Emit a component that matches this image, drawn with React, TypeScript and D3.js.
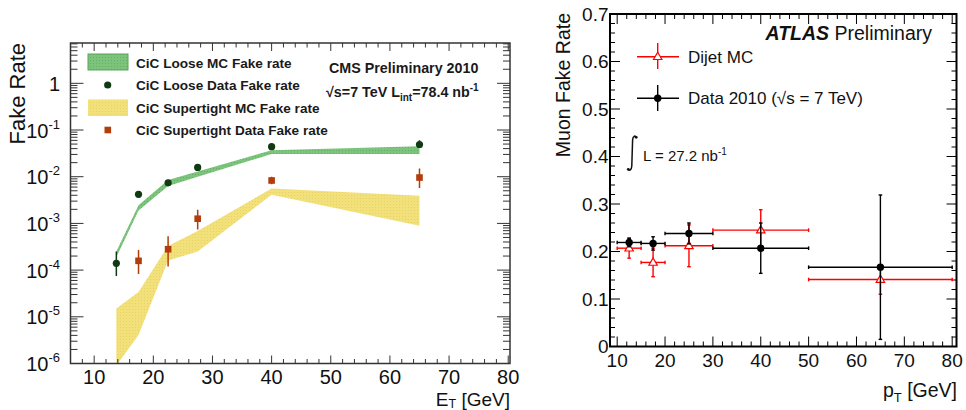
import React from "react";
import * as d3 from "d3";

// left panel: photon fake rate vs E_T (log scale)
const etPoints = [13.75, 17.5, 22.5, 27.5, 40, 65];
const looseMcHigh = [2.5e-4, 2.45e-3, 8.5e-3, 1.29e-2, 3.7e-2, 4.5e-2];
const looseMcLow = [1.9e-4, 1.9e-3, 6.3e-3, 1.0e-2, 3.05e-2, 3.05e-2];
const tightMcHigh = [1.5e-5, 3.4e-5, 3.3e-4, 6.9e-4, 5.6e-3, 3.9e-3];
const tightMcLow = [9e-7, 4.1e-6, 1.6e-4, 2.5e-4, 4.1e-3, 8.9e-4];
const looseData = [1.4e-4, 4.2e-3, 7.4e-3, 1.58e-2, 4.4e-2, 4.9e-2];
const looseDataLow = [7.5e-5, 3.9e-3, 7.0e-3, 1.5e-2, 4.1e-2, 4.2e-2];
const looseDataHigh = [2.5e-4, 4.5e-3, 7.9e-3, 1.7e-2, 4.7e-2, 6.0e-2];
const tightEt = [17.5, 22.5, 27.5, 40, 65];
const tightData = [1.58e-4, 2.8e-4, 1.26e-3, 8.3e-3, 9.6e-3];
const tightDataLow = [8.3e-5, 1.2e-4, 7.4e-4, 6.9e-3, 5.7e-3];
const tightDataHigh = [2.7e-4, 5.3e-4, 1.96e-3, 1.0e-2, 1.5e-2];
const leftXTicks = [10, 20, 30, 40, 50, 60, 70, 80];
const leftDecades = [-6, -5, -4, -3, -2, -1, 0];
const leftLegend = [
  "CiC Loose MC Fake rate",
  "CiC Loose Data Fake rate",
  "CiC Supertight MC Fake rate",
  "CiC Supertight Data Fake rate",
];

// right panel: muon fake rate vs p_T
const ptLow = [10, 15, 20, 30, 50];
const ptHigh = [15, 20, 30, 50, 80];
const ptCenter = [12.5, 17.5, 25, 40, 65];
const muData = [0.219, 0.217, 0.238, 0.207, 0.167];
const muDataErr = [0.009, 0.014, 0.022, 0.053, 0.152];
const muMc = [0.207, 0.177, 0.212, 0.245, 0.141];
const muMcErr = [0.021, 0.03, 0.044, 0.043, 0.031];
const rightXTicks = [10, 20, 30, 40, 50, 60, 70, 80];
const rightYTicks = [0, 0.1, 0.2, 0.3, 0.4, 0.5, 0.6, 0.7];

const FONT = "'Liberation Sans', Arial, Helvetica, sans-serif";
const GREEN = "#7cc47c";
const YELLOW = "#f2e07a";
const DARKGREEN = "#0f3a12";
const RUST = "#b23c0c";

const App = () => {
  // left scales
  const xL = d3.scaleLinear().domain([6, 80.3]).range([70.5, 510]);
  const yL = d3.scaleLog().domain([1e-6, 7.3]).range([363.5, 43]);
  const [lx0, lx1] = xL.range();
  const [ly0, ly1] = yL.range();

  // right scales
  const xR = d3.scaleLinear().domain([8.5, 80.9]).range([610, 956.5]);
  const yR = d3.scaleLinear().domain([0, 0.7]).range([346.5, 14]);
  const [rx0, rx1] = xR.range();
  const [ry0, ry1] = yR.range();

  const looseBand = d3
    .area<number>()
    .x((d, i) => xL(etPoints[i]))
    .y0((d, i) => yL(looseMcLow[i]))
    .y1((d, i) => yL(looseMcHigh[i]));
  const tightBand = d3
    .area<number>()
    .x((d, i) => xL(etPoints[i]))
    .y0((d, i) => yL(tightMcLow[i]))
    .y1((d, i) => yL(tightMcHigh[i]));

  const leftMinorX = d3.range(6, 80.01, 2).filter((v) => v % 10 !== 0);
  const leftMinorY: number[] = [];
  leftDecades.forEach((e) => {
    for (let k = 2; k <= 9; k++) {
      const v = k * Math.pow(10, e);
      if (v < 7.3) leftMinorY.push(v);
    }
  });
  const rightMinorX = d3.range(10, 80.01, 2).filter((v) => v % 10 !== 0);
  const rightMinorY = d3.range(0, 0.701, 0.02).filter((v) => Math.abs(v * 10 - Math.round(v * 10)) > 1e-6);

  const tri = (cx: number, cy: number) =>
    `M${cx},${cy - 4.5} L${cx + 4.2},${cy + 2.8} L${cx - 4.2},${cy + 2.8} Z`;

  return (
    <svg
      width={966}
      height={410}
      style={{ position: "absolute", left: 0, top: 0, background: "#fff" }}
      fontFamily={FONT}
    >
      <defs>
        <clipPath id="clipL">
          <rect x={lx0} y={ly1} width={lx1 - lx0} height={ly0 - ly1} />
        </clipPath>
        <pattern id="greenTex" width={3} height={3} patternUnits="userSpaceOnUse">
          <rect width={3} height={3} fill={GREEN} />
          <rect width={1} height={1} fill="#66ad66" />
        </pattern>
        <pattern id="yellowTex" width={3} height={3} patternUnits="userSpaceOnUse">
          <rect width={3} height={3} fill={YELLOW} />
          <rect width={1} height={1} fill="#e8d264" />
        </pattern>
      </defs>

      {/* ---------------- LEFT PANEL ---------------- */}
      <g clipPath="url(#clipL)">
        <path d={tightBand(etPoints) || ""} fill="url(#yellowTex)" />
        <path d={looseBand(etPoints) || ""} fill="url(#greenTex)" />
        {etPoints.map((x, i) => (
          <line
            key={"le" + i}
            x1={xL(x)}
            x2={xL(x)}
            y1={yL(looseDataLow[i])}
            y2={yL(looseDataHigh[i])}
            stroke={DARKGREEN}
            strokeWidth={1.5}
          />
        ))}
        {etPoints.map((x, i) => (
          <circle key={"ld" + i} cx={xL(x)} cy={yL(looseData[i])} r={3.6} fill={DARKGREEN} />
        ))}
        {tightEt.map((x, i) => (
          <line
            key={"te" + i}
            x1={xL(x)}
            x2={xL(x)}
            y1={yL(tightDataLow[i])}
            y2={yL(tightDataHigh[i])}
            stroke={RUST}
            strokeWidth={1.5}
          />
        ))}
        {tightEt.map((x, i) => (
          <rect key={"td" + i} x={xL(x) - 3.3} y={yL(tightData[i]) - 3.3} width={6.6} height={6.6} fill={RUST} />
        ))}
      </g>

      {/* left frame and ticks */}
      <g stroke="#333" strokeWidth={1}>
        {leftXTicks.map((t) => (
          <g key={"lxt" + t}>
            <line x1={xL(t)} x2={xL(t)} y1={ly0} y2={ly0 - 8} />
            <line x1={xL(t)} x2={xL(t)} y1={ly1} y2={ly1 + 8} />
          </g>
        ))}
        {leftMinorX.map((t) => (
          <g key={"lxm" + t}>
            <line x1={xL(t)} x2={xL(t)} y1={ly0} y2={ly0 - 4.5} />
            <line x1={xL(t)} x2={xL(t)} y1={ly1} y2={ly1 + 4.5} />
          </g>
        ))}
        {leftDecades.map((e) => (
          <g key={"lyt" + e}>
            <line x1={lx0} x2={lx0 + 13} y1={yL(Math.pow(10, e))} y2={yL(Math.pow(10, e))} />
            <line x1={lx1} x2={lx1 - 13} y1={yL(Math.pow(10, e))} y2={yL(Math.pow(10, e))} />
          </g>
        ))}
        {leftMinorY.map((t, i) => (
          <g key={"lym" + i}>
            <line x1={lx0} x2={lx0 + 7} y1={yL(t)} y2={yL(t)} />
            <line x1={lx1} x2={lx1 - 7} y1={yL(t)} y2={yL(t)} />
          </g>
        ))}
      </g>
      <rect x={lx0} y={ly1} width={lx1 - lx0} height={ly0 - ly1} fill="none" stroke="#333" strokeWidth={1.5} />

      {/* left tick labels */}
      {leftXTicks.map((t) => (
        <text key={"lxl" + t} x={xL(t)} y={383.5} textAnchor="middle" fontSize={20} fill="#111">
          {t}
        </text>
      ))}
      {leftDecades.map((e) => (
        <text key={"lyl" + e} x={60} y={yL(Math.pow(10, e)) + 7.5} textAnchor="end" fontSize={20} fill="#111">
          {e === 0 ? (
            "1"
          ) : (
            <>
              10
              <tspan fontSize={13} dy={-9}>
                {e}
              </tspan>
            </>
          )}
        </text>
      ))}
      <text transform="translate(25,43) rotate(-90)" textAnchor="end" fontSize={22} fill="#111">
        Fake Rate
      </text>
      <text x={510} y={405.5} textAnchor="end" fontSize={19} fill="#111">
        E<tspan fontSize={12.5} dy={2}>T</tspan>
        <tspan dy={-2}> [GeV]</tspan>
      </text>

      {/* left legend */}
      <rect x={88} y={54} width={40} height={16} fill="url(#greenTex)" stroke="#5aa65a" strokeWidth={1} />
      <circle cx={107.7} cy={85} r={3.6} fill={DARKGREEN} />
      <rect x={88} y={99.5} width={40} height={16.5} fill="url(#yellowTex)" />
      <rect x={104.5} y={126.7} width={6.6} height={6.6} fill={RUST} />
      {leftLegend.map((s, i) => (
        <text key={"lg" + i} x={136} y={67.5 + i * 22.6} fontSize={13.6} fontWeight="bold" fill="#1a1a1a">
          {s}
        </text>
      ))}
      <text x={329} y={73} fontSize={14.3} fontWeight="bold" fill="#1a1a1a">
        CMS Preliminary 2010
      </text>
      <text x={326} y={97} fontSize={14.3} fontWeight="bold" fill="#1a1a1a">
        √s=7 TeV L<tspan fontSize={10} dy={4}>int</tspan>
        <tspan dy={-4}>=78.4 nb</tspan>
        <tspan fontSize={10} dy={-6}>-1</tspan>
      </text>

      {/* ---------------- RIGHT PANEL ---------------- */}
      <g stroke="#000" strokeWidth={1}>
        {rightXTicks.map((t) => (
          <g key={"rxt" + t}>
            <line x1={xR(t)} x2={xR(t)} y1={ry0} y2={ry0 - 10} />
            <line x1={xR(t)} x2={xR(t)} y1={ry1} y2={ry1 + 10} />
          </g>
        ))}
        {rightMinorX.map((t) => (
          <g key={"rxm" + t}>
            <line x1={xR(t)} x2={xR(t)} y1={ry0} y2={ry0 - 5} />
            <line x1={xR(t)} x2={xR(t)} y1={ry1} y2={ry1 + 5} />
          </g>
        ))}
        {rightYTicks.map((t) => (
          <g key={"ryt" + t}>
            <line x1={rx0} x2={rx0 + 10} y1={yR(t)} y2={yR(t)} />
            <line x1={rx1} x2={rx1 - 10} y1={yR(t)} y2={yR(t)} />
          </g>
        ))}
        {rightMinorY.map((t, i) => (
          <g key={"rym" + i}>
            <line x1={rx0} x2={rx0 + 5} y1={yR(t)} y2={yR(t)} />
            <line x1={rx1} x2={rx1 - 5} y1={yR(t)} y2={yR(t)} />
          </g>
        ))}
      </g>
      <rect x={rx0} y={ry1} width={rx1 - rx0} height={ry0 - ry1} fill="none" stroke="#000" strokeWidth={2} />

      {rightXTicks.map((t) => (
        <text key={"rxl" + t} x={xR(t)} y={367} textAnchor="middle" fontSize={19} fill="#111">
          {t}
        </text>
      ))}
      {rightYTicks.map((t) => (
        <text key={"ryl" + t} x={608.5} y={yR(t) + 6.8} textAnchor="end" fontSize={19} fill="#111">
          {t === 0 ? "0" : t.toFixed(1)}
        </text>
      ))}
      <text transform="translate(570,13) rotate(-90)" textAnchor="end" fontSize={19.5} fill="#111">
        Muon Fake Rate
      </text>
      <text x={957} y={397} textAnchor="end" fontSize={19.5} fill="#111">
        p<tspan fontSize={13} dy={5}>T</tspan>
        <tspan dy={-5}> [GeV]</tspan>
      </text>

      {/* MC (red) */}
      {ptCenter.map((c, i) => {
        const y = yR(muMc[i]);
        const xa = xR(ptLow[i]);
        const xb = xR(ptHigh[i]);
        const ya = yR(muMc[i] - muMcErr[i]);
        const yb = yR(muMc[i] + muMcErr[i]);
        return (
          <g key={"mc" + i} stroke="#f00" strokeWidth={1.4}>
            <line x1={xa} x2={xb} y1={y} y2={y} />
            <line x1={xa} x2={xa} y1={y - 1.8} y2={y + 1.8} />
            <line x1={xb} x2={xb} y1={y - 1.8} y2={y + 1.8} />
            <line x1={xR(c)} x2={xR(c)} y1={ya} y2={yb} />
            <line x1={xR(c) - 1.8} x2={xR(c) + 1.8} y1={ya} y2={ya} />
            <line x1={xR(c) - 1.8} x2={xR(c) + 1.8} y1={yb} y2={yb} />
            <path d={tri(xR(c), y)} fill="#fff" strokeWidth={1.2} />
          </g>
        );
      })}
      {/* data (black) */}
      {ptCenter.map((c, i) => {
        const y = yR(muData[i]);
        const xa = xR(ptLow[i]);
        const xb = xR(ptHigh[i]);
        const ya = yR(muData[i] - muDataErr[i]);
        const yb = yR(muData[i] + muDataErr[i]);
        return (
          <g key={"da" + i} stroke="#000" strokeWidth={1.4}>
            <line x1={xa} x2={xb} y1={y} y2={y} />
            <line x1={xa} x2={xa} y1={y - 1.8} y2={y + 1.8} />
            <line x1={xb} x2={xb} y1={y - 1.8} y2={y + 1.8} />
            <line x1={xR(c)} x2={xR(c)} y1={ya} y2={yb} />
            <line x1={xR(c) - 1.8} x2={xR(c) + 1.8} y1={ya} y2={ya} />
            <line x1={xR(c) - 1.8} x2={xR(c) + 1.8} y1={yb} y2={yb} />
            <circle cx={xR(c)} cy={y} r={3.7} fill="#000" stroke="none" />
          </g>
        );
      })}

      {/* right legend */}
      <g stroke="#f00" strokeWidth={1.4}>
        <line x1={637} x2={679} y1={56.7} y2={56.7} />
        <line x1={657.7} x2={657.7} y1={43} y2={69} />
        <path d={tri(657.7, 56.7)} fill="#fff" strokeWidth={1.2} />
      </g>
      <g stroke="#000" strokeWidth={1.4}>
        <line x1={637} x2={679} y1={98.3} y2={98.3} />
        <line x1={657.7} x2={657.7} y1={85} y2={111} />
        <circle cx={657.7} cy={98.3} r={3.7} fill="#000" stroke="none" />
      </g>
      <text x={688} y={62.5} fontSize={17} fill="#111">
        Dijet MC
      </text>
      <text x={688} y={104} fontSize={17} fill="#111">
        Data 2010 (√s = 7 TeV)
      </text>
      <text x={932} y={39.5} textAnchor="end" fontSize={19.5} fill="#111">
        <tspan fontWeight="bold" fontStyle="italic">ATLAS</tspan> Preliminary
      </text>
      <path
        d="M628,169 C629.5,171.5 631.5,170 631.8,166 L632.6,140 C632.9,136 635,135 636.5,137.5"
        fill="none"
        stroke="#111"
        strokeWidth={1.5}
      />
      <circle cx={628.3} cy={169.3} r={1.4} fill="#111" />
      <circle cx={636.2} cy={137.3} r={1.4} fill="#111" />
      <text x={643} y={161} fontSize={15} fill="#111">
        L = 27.2 nb<tspan fontSize={10} dy={-6}>-1</tspan>
      </text>
    </svg>
  );
};

export default App;
